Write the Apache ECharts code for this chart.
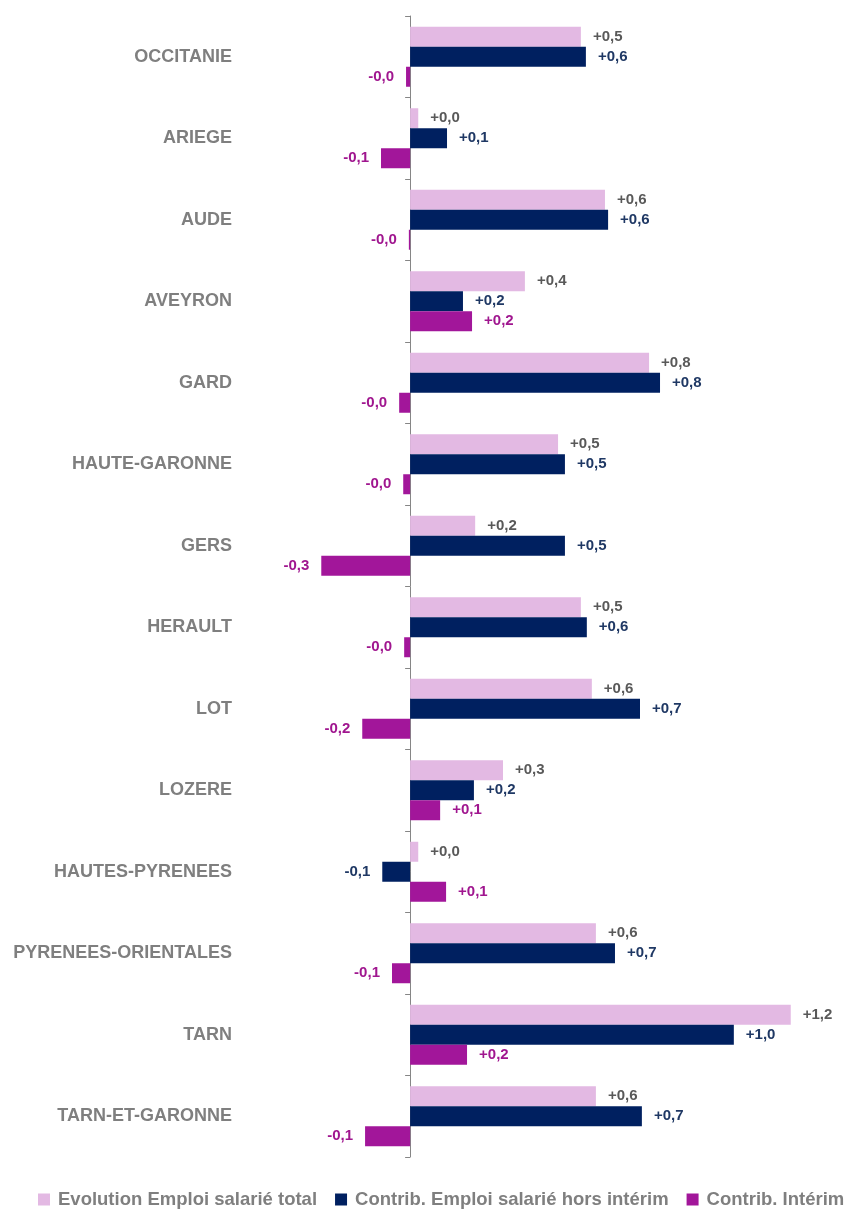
<!DOCTYPE html>
<html>
<head>
<meta charset="utf-8">
<script src="https://cdn.jsdelivr.net/npm/echarts@6/dist/echarts.min.js"></script>
<style>
  html, body { margin: 0; padding: 0; background: #fff; }
  #chart { width: 854px; height: 1211px; }
</style>
</head>
<body>
<div id="chart"></div>
<script>
var categories = ['OCCITANIE', 'ARIEGE', 'AUDE', 'AVEYRON', 'GARD', 'HAUTE-GARONNE', 'GERS',
    'HERAULT', 'LOT', 'LOZERE', 'HAUTES-PYRENEES', 'PYRENEES-ORIENTALES', 'TARN', 'TARN-ET-GARONNE'];
var evolTotal = [0.546, 0.026, 0.623, 0.367, 0.764, 0.473, 0.208, 0.546, 0.581, 0.297, 0.026, 0.594, 1.217, 0.594];
var contribHorsInterim = [0.562, 0.118, 0.633, 0.169, 0.799, 0.495, 0.495, 0.565, 0.735, 0.204, -0.089, 0.655, 1.035, 0.741];
var contribInterim = [-0.013, -0.093, -0.004, 0.198, -0.035, -0.022, -0.284, -0.019, -0.153, 0.096, 0.115, -0.058, 0.182, -0.144];

var FONT = "'Liberation Sans', Arial, sans-serif";

function fmt(v) { // +0,5 / -0,1
    var s = v.toFixed(1).replace('.', ',');
    return v >= 0 ? '+' + s : s;
}

function makeSeries(name, data, color, labelColor) {
    return {
        name: name,
        type: 'bar',
        barWidth: 20,
        barGap: '0%',
        itemStyle: { color: color },
        data: data.map(function (v) {
            return {
                value: v,
                label: { position: v >= 0 ? 'right' : 'left' }
            };
        }),
        label: {
            show: true,
            distance: 12,
            color: labelColor,
            fontFamily: FONT,
            fontWeight: 'bold',
            fontSize: 15,
            formatter: function (p) { return fmt(p.value); }
        }
    };
}

var chart = echarts.init(document.getElementById('chart'));
chart.setOption({
    animation: false,
    backgroundColor: '#fff',
    grid: { left: 285, right: 6, top: 16, bottom: 54, outerBoundsMode: 'none', containLabel: false },
    legend: {
        top: 1190,
        left: 38,
        padding: 0,
        itemWidth: 12,
        itemHeight: 12,
        itemGap: 18,
        icon: 'rect',
        textStyle: { color: '#7f7f7f', fontFamily: FONT, fontWeight: 'bold', fontSize: 18.5, padding: [0, 0, 0, 3] }
    },
    xAxis: {
        type: 'value',
        min: -0.4,
        max: 1.4,
        show: false
    },
    yAxis: {
        type: 'category',
        inverse: true,
        data: categories,
        axisLine: { lineStyle: { color: '#868686', width: 1 } },
        axisTick: { show: true, length: 5, lineStyle: { color: '#868686' } },
        axisLabel: {
            margin: 53,
            color: '#7f7f7f',
            fontFamily: FONT,
            fontWeight: 'bold',
            fontSize: 18
        },
        splitLine: { show: false }
    },
    series: [
        makeSeries('Evolution Emploi salarié total', evolTotal, '#e3b9e3', '#595959'),
        makeSeries('Contrib. Emploi salarié hors intérim', contribHorsInterim, '#002060', '#1f3864'),
        makeSeries('Contrib. Intérim', contribInterim, '#a2169a', '#a0168f')
    ]
});
</script>
</body>
</html>
